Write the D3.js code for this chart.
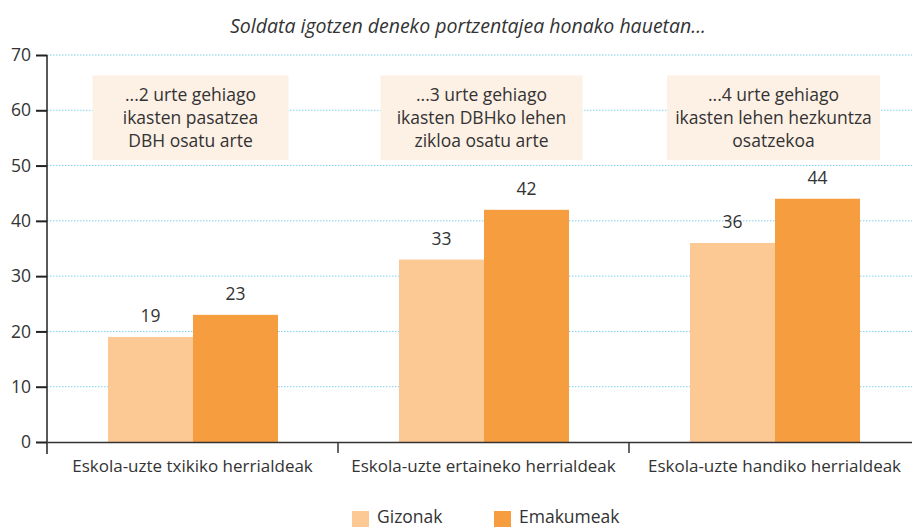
<!DOCTYPE html>
<html lang="eu">
<head>
<meta charset="UTF-8">
<title>Soldata igotzen deneko portzentajea</title>
<script src="https://d3js.org/d3.v7.min.js"></script>
<style>
  body { margin: 0; background: #fff; }
  svg text { font-family: "Open Sans", "Noto Sans", sans-serif; fill: #333; }
  .grid line { stroke: #7fd2ea; stroke-dasharray: 1.5 1.5; stroke-width: 1; }
</style>
</head>
<body>
<svg id="chart" width="912" height="527"></svg>
<script>
// data
const categories = ["Eskola-uzte txikiko herrialdeak", "Eskola-uzte ertaineko herrialdeak", "Eskola-uzte handiko herrialdeak"];
const series = ["Gizonak", "Emakumeak"];
const gizonak = [19, 33, 36];
const emakumeak = [23, 42, 44];
const labels = ["19", "33", "36"];
const labels2 = ["23", "42", "44"];
const boxTexts = [
  ["...2 urte gehiago", "ikasten pasatzea", "DBH osatu arte"],
  ["...3 urte gehiago", "ikasten DBHko lehen", "zikloa osatu arte"],
  ["...4 urte gehiago", "ikasten lehen hezkuntza", "osatzekoa"]
];
const yTicks = [0, 10, 20, 30, 40, 50, 60, 70];
const title = "Soldata igotzen deneko portzentajea honako hauetan...";
const colors = ["#fcc995", "#f59d3f"];

const svg = d3.select("#chart");
const mLeft = 47, mRight = 920, mTop = 55, mBottom = 442;

const x0 = d3.scaleBand().domain(categories).range([mLeft, mRight]);
const x1 = d3.scaleBand().domain(series).range([61, 231]);
const y = d3.scaleLinear().domain([0, 70]).range([mBottom, mTop]);

// grid
svg.append("g").attr("class", "grid")
  .selectAll("line").data(yTicks.filter(d => d > 0)).join("line")
  .attr("x1", mLeft).attr("x2", 912)
  .attr("y1", d => y(d)).attr("y2", d => y(d));

// annotation boxes
const boxes = svg.append("g");
const boxW = [196, 202, 213];
boxTexts.forEach((lines, i) => {
  const cx = x0(categories[i]) + x0.bandwidth() / 2 - 2 - (i === 2 ? -1 : 0);
  boxes.append("rect")
    .attr("x", cx - boxW[i] / 2).attr("y", y(66.3))
    .attr("width", boxW[i]).attr("height", y(51) - y(66.3))
    .attr("fill", "#fdf0e5");
  lines.forEach((t, j) => {
    boxes.append("text")
      .attr("x", cx).attr("y", y(66.3) + 26 + j * 23)
      .attr("text-anchor", "middle")
      .style("font-size", "17.5px")
      .text(t);
  });
});

// bars
const groups = svg.append("g").selectAll("g").data(categories).join("g")
  .attr("transform", d => `translate(${x0(d)},0)`);

groups.append("rect")
  .attr("x", x1("Gizonak")).attr("width", x1.bandwidth())
  .attr("y", (d, i) => y(gizonak[i])).attr("height", (d, i) => mBottom - y(gizonak[i]))
  .attr("fill", colors[0]);
groups.append("rect")
  .attr("x", x1("Emakumeak")).attr("width", x1.bandwidth())
  .attr("y", (d, i) => y(emakumeak[i])).attr("height", (d, i) => mBottom - y(emakumeak[i]))
  .attr("fill", colors[1]);

groups.append("text")
  .attr("x", x1("Gizonak") + x1.bandwidth() / 2)
  .attr("y", (d, i) => y(gizonak[i]) - 15)
  .attr("text-anchor", "middle").style("font-size", "17.5px")
  .text((d, i) => labels[i]);
groups.append("text")
  .attr("x", x1("Emakumeak") + x1.bandwidth() / 2)
  .attr("y", (d, i) => y(emakumeak[i]) - 15)
  .attr("text-anchor", "middle").style("font-size", "17.5px")
  .text((d, i) => labels2[i]);

// y axis
const yAxis = svg.append("g").attr("transform", `translate(${mLeft},0)`)
  .call(d3.axisLeft(y).tickValues(yTicks).tickSize(11).tickPadding(5));
yAxis.select(".domain").attr("d", `M0,${mTop}V${mBottom + 12}`).attr("stroke", "#222").attr("stroke-width", 1.5);
yAxis.selectAll(".tick line").attr("stroke", "#222").attr("stroke-width", 2);
yAxis.selectAll(".tick text").style("font-size", "17.5px").style("font-family", "'Open Sans', sans-serif").attr("fill", "#333");

// x axis
const xAxis = svg.append("g").attr("transform", `translate(0,${mBottom})`)
  .call(d3.axisBottom(x0).tickSize(0).tickPadding(18));
xAxis.select(".domain").attr("stroke", "#333").attr("stroke-width", 1.5);
xAxis.selectAll(".tick text").style("font-size", "17px").style("font-family", "'Open Sans', sans-serif").attr("fill", "#333");
xAxis.selectAll(".sep").data(categories.slice(1)).join("line")
  .attr("class", "sep")
  .attr("x1", d => x0(d)).attr("x2", d => x0(d))
  .attr("y1", 0).attr("y2", 11)
  .attr("stroke", "#333").attr("stroke-width", 1.5);

// title
svg.append("text")
  .attr("x", 468).attr("y", 33)
  .attr("text-anchor", "middle")
  .style("font-size", "19.5px").style("font-style", "italic")
  .text(title);

// legend
const legendX = [352, 494];
const legend = svg.append("g");
series.forEach((s, i) => {
  legend.append("rect")
    .attr("x", legendX[i]).attr("y", 511)
    .attr("width", 17).attr("height", 16)
    .attr("fill", colors[i]);
  legend.append("text")
    .attr("x", legendX[i] + 25).attr("y", 523)
    .style("font-size", "17.5px")
    .text(s);
});
</script>
</body>
</html>
